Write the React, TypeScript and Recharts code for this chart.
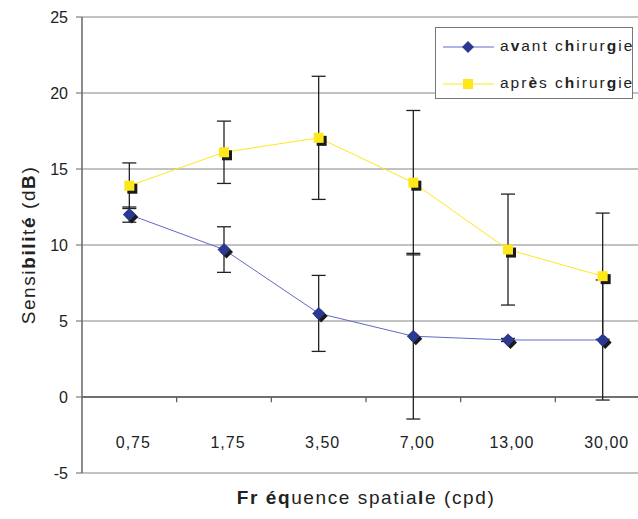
import {
  ComposedChart,
  Line,
  XAxis,
  YAxis,
  CartesianGrid,
  ErrorBar,
  ReferenceLine,
} from 'recharts'

// spatial frequency (cpd)
const categories = ['0,75', '1,75', '3,50', '7,00', '13,00', '30,00']
const avant = [12.0, 9.7, 5.5, 4.0, 3.75, 3.75]
const avantErr = [0.5, 1.5, 2.5, 5.45, 0.1, 3.95]
const apres = [13.9, 16.1, 17.05, 14.1, 9.7, 7.95]
const apresErr = [1.5, 2.05, 4.05, 4.75, 3.65, 4.15]
const yTicks = [-5, 0, 5, 10, 15, 20, 25]
const betweenTicks = [1, 2, 3, 4, 5]

const data = categories.map((label, i) => ({
  x: i + 0.5,
  label,
  avant: avant[i],
  avantErr: avantErr[i],
  apres: apres[i],
  apresErr: apresErr[i],
}))

const FONT = '"Liberation Sans", Arial, sans-serif'
const BLUE = '#2B3990'
const BLUE_LINE = '#6268C8'
const YELLOW = '#FFE81A'

const DiamondDot = (props: any) => {
  const { cx, cy, index } = props
  if (cx == null || cy == null) return null
  const r = 6.5
  const d = (x: number, y: number) =>
    `M${x},${y - r} L${x + r},${y} L${x},${y + r} L${x - r},${y} Z`
  return (
    <g key={`d-${index}`}>
      <path d={d(cx + 2.5, cy + 2.5)} fill="#1a1a1a" />
      <path d={d(cx, cy)} fill={BLUE} />
    </g>
  )
}

const SquareDot = (props: any) => {
  const { cx, cy, index } = props
  if (cx == null || cy == null) return null
  const s = 10
  return (
    <g key={`s-${index}`}>
      <rect x={cx - s / 2 + 3} y={cy - s / 2 + 3} width={s} height={s} fill="#1a1a1a" />
      <rect x={cx - s / 2} y={cy - s / 2} width={s} height={s} fill={YELLOW} />
    </g>
  )
}

const XTick = (props: any) => {
  const { x, y, payload } = props
  const i = Math.round(payload.value - 0.5)
  return (
    <text
      x={x + 4}
      y={y - 25}
      textAnchor="middle"
      fontSize={16}
      fontFamily={FONT}
      fill="#222"
      letterSpacing={1}
    >
      {categories[i]}
    </text>
  )
}

const LegendBox = () => (
  <div
    style={{
      position: 'absolute',
      left: 435,
      top: 27,
      width: 196,
      height: 70,
      border: '1px solid #777',
      background: '#fff',
      fontFamily: FONT,
      fontSize: 15.5,
      color: '#222',
      letterSpacing: 2,
    }}
  >
    <svg width={60} height={70} style={{ position: 'absolute', left: 0, top: 0 }}>
      <line x1={7} x2={58} y1={19} y2={19} stroke={BLUE_LINE} strokeWidth={1} />
      <path d="M32,13 L38,19 L32,25 L26,19 Z" fill={BLUE} />
      <line x1={7} x2={58} y1={56} y2={56} stroke={YELLOW} strokeWidth={1} />
      <rect x={27} y={51} width={10} height={10} fill={YELLOW} />
    </svg>
    <div style={{ position: 'absolute', left: 64, top: 9, whiteSpace: 'nowrap' }}>
      a<b>v</b>ant c<b>h</b>irur<b>g</b>ie
    </div>
    <div style={{ position: 'absolute', left: 64, top: 46, whiteSpace: 'nowrap' }}>
      apr<b>è</b>s c<b>h</b>irur<b>g</b>ie
    </div>
  </div>
)

export default function App() {
  return (
    <div
      style={{
        position: 'fixed',
        left: 0,
        top: 0,
        width: 638,
        height: 519,
        overflow: 'hidden',
        background: '#fff',
      }}
    >
      <ComposedChart
        width={660}
        height={519}
        data={data}
        margin={{ top: 17, right: 10, bottom: 0, left: 0 }}
      >
        <CartesianGrid vertical={false} stroke="#858585" strokeWidth={1.2} />
        <XAxis
          dataKey="x"
          type="number"
          domain={[0, 6]}
          ticks={data.map((d) => d.x)}
          axisLine={false}
          tickLine={false}
          tickSize={0}
          tickMargin={0}
          tick={<XTick />}
          height={46}
          interval={0}
          label={{
            position: 'insideBottom',
            content: (p: any) => {
              const vb = p.viewBox
              return (
                <text
                  x={vb.x + vb.width / 2}
                  y={vb.y + 31}
                  textAnchor="middle"
                  fontSize={19}
                  fontFamily={FONT}
                  fill="#222"
                  letterSpacing={1.6}
                >
                  <tspan fontWeight="bold">Fr</tspan> <tspan fontWeight="bold">éq</tspan>uence spatia
                  <tspan fontWeight="bold">l</tspan>e (cpd)
                </text>
              )
            },
          }}
        />
        <YAxis
          type="number"
          domain={[-5, 25]}
          ticks={yTicks}
          width={82}
          axisLine={{ stroke: '#666', strokeWidth: 1.5 }}
          tickLine={{ stroke: '#666' }}
          tickSize={6}
          tickMargin={8}
          tick={{ fontSize: 16, fontFamily: FONT, fill: '#222' }}
          label={{
            position: 'insideLeft',
            content: (p: any) => {
              const vb = p.viewBox
              const cx = vb.x + 28
              const cy = vb.y + vb.height / 2
              return (
                <text
                  x={cx}
                  y={cy}
                  transform={`rotate(-90, ${cx}, ${cy})`}
                  textAnchor="middle"
                  dominantBaseline="central"
                  fontSize={19}
                  fontFamily={FONT}
                  fill="#222"
                  letterSpacing={1.6}
                >
                  Sensi<tspan fontWeight="bold">bili</tspan>t<tspan fontWeight="bold">é</tspan> (d
                  <tspan fontWeight="bold">B</tspan>)
                </text>
              )
            },
          }}
        />
        <ReferenceLine y={0} stroke="#555" strokeWidth={1.5} />
        {betweenTicks.map((t) => (
          <ReferenceLine
            key={t}
            segment={[
              { x: t, y: 0 },
              { x: t, y: -0.35 },
            ]}
            stroke="#555"
            strokeWidth={1.2}
            ifOverflow="visible"
          />
        ))}
        <Line
          dataKey="avant"
          stroke={BLUE_LINE}
          strokeWidth={1}
          dot={DiamondDot}
          activeDot={false}
          isAnimationActive={false}
        >
          <ErrorBar dataKey="avantErr" width={7} stroke="#222" strokeWidth={1.3} />
        </Line>
        <Line
          dataKey="apres"
          stroke={YELLOW}
          strokeWidth={1}
          dot={SquareDot}
          activeDot={false}
          isAnimationActive={false}
        >
          <ErrorBar dataKey="apresErr" width={7} stroke="#222" strokeWidth={1.3} />
        </Line>
      </ComposedChart>
      <LegendBox />
    </div>
  )
}
